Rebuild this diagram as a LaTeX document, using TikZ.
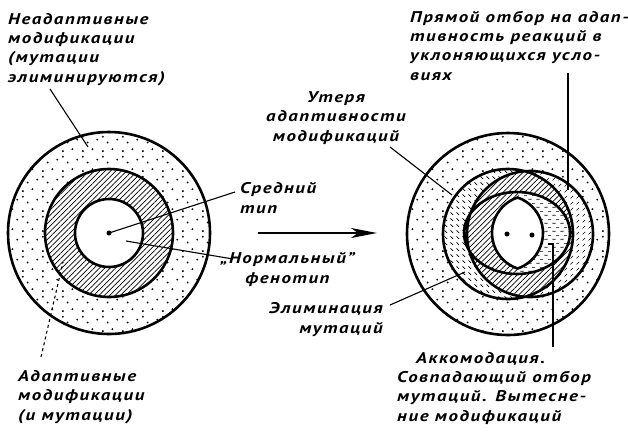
\documentclass[tikz,border=0pt]{standalone}
\usepackage{fontspec}
\usepackage{tikz}
\usetikzlibrary{arrows.meta,patterns.meta}
\newfontfamily\labelfont[FakeStretch=1.22,LetterSpace=10]{PT Sans}

\tikzdeclarepattern{
  name=speckle, type=uncolored,
  bottom left={(0pt,0pt)}, top right={(20pt,20pt)}, tile size={(20pt,20pt)},
  code={
    \fill (3pt,2pt) circle[radius=1.1pt] (13pt,4pt) circle[radius=1.1pt]
          (8pt,11pt) circle[radius=1.1pt] (18pt,14pt) circle[radius=1.1pt]
          (3pt,17pt) circle[radius=1.1pt];
  }
}
\tikzdeclarepattern{
  name=dashnw, type=uncolored,
  bottom left={(0pt,0pt)}, top right={(6pt,6pt)}, tile size={(6pt,6pt)},
  code={\draw[line width=0.75pt] (0.6pt,5.4pt) -- (3.6pt,2.4pt);}
}
\tikzdeclarepattern{
  name=dashne, type=uncolored,
  bottom left={(0pt,0pt)}, top right={(6pt,6pt)}, tile size={(6pt,6pt)},
  code={\draw[line width=0.75pt] (0.6pt,0.6pt) -- (3.6pt,3.6pt);}
}
\tikzdeclarepattern{
  name=dashflat, type=uncolored,
  bottom left={(0pt,0pt)}, top right={(8pt,8pt)}, tile size={(8pt,8pt)},
  code={\draw[line width=0.75pt] (0.5pt,2pt) -- (4pt,2pt) (4.5pt,6pt) -- (8pt,6pt);}
}

\begin{document}
\begin{tikzpicture}[
    x=1pt, y=-1pt,
    rim/.style={line width=2.6pt},
    leader/.style={line width=1.1pt},
    note/.style={anchor=base west, align=left, inner sep=0pt,
      font=\labelfont\bfseries\itshape\fontsize{15.5}{19.3}\selectfont},
    speckled/.style={pattern=speckle},
    ringhatch/.style={pattern={Lines[angle=45,distance=3.8pt,line width=0.7pt]}},
    shiftarrow/.style={line width=2pt, -{Stealth[length=26pt,width=10pt,inset=7pt]}}
  ]
  \useasboundingbox (0,0) rectangle (628,432);

  % left: stable distribution
  \coordinate (L) at (109,233);
  \path[speckled] (L) circle[radius=101];
  \fill[white] (L) circle[radius=64];
  \path[ringhatch] (L) circle[radius=64];
  \fill[white] (L) circle[radius=34];
  \draw[rim] (L) circle[radius=101] (L) circle[radius=64] (L) circle[radius=34];
  \fill (L) circle[radius=2.5];

  % right: shifted distribution
  \coordinate (R) at (508,234);
  \coordinate (Rn) at (530,234);
  \coordinate (Rm) at (517,233);
  \path[speckled] (R) circle[radius=101];
  \fill[white] (R) circle[radius=65] (Rn) circle[radius=63];
  \path[pattern=dashnw] (R) circle[radius=65];
  \path[pattern=dashne] (Rn) circle[radius=63];
  \begin{scope}
    \clip (R) circle[radius=65];
    \fill[white] (Rn) circle[radius=63];
    \path[ringhatch] (Rn) circle[radius=63];
  \end{scope}
  \begin{scope}
    \clip (Rm) ellipse[x radius=53, y radius=41];
    \clip (518,180) rectangle (580,290);
    \fill[white] (Rm) ellipse[x radius=53, y radius=41];
    \path[pattern=dashflat] (Rm) ellipse[x radius=53, y radius=41];
  \end{scope}
  \draw[rim, fill=white] (517.5,197.5) arc[start angle=251.3, end angle=108.7, radius=37.5]
    arc[start angle=71.3, end angle=-71.3, radius=37.5] -- cycle;
  \draw[rim] (R) circle[radius=101] (R) circle[radius=65] (Rn) circle[radius=63]
    (Rm) ellipse[x radius=53, y radius=41];
  \fill (507,234) circle[radius=2.5] (532,235) circle[radius=2.5];

  % change of conditions
  \coordinate (shiftfrom) at (258,233);
  \coordinate (shiftto) at (377,233);
  \draw[shiftarrow] (shiftfrom) -- (shiftto);

  % labels (placed by the baseline of their last line)
  \node[note] (nonadapt) at (8,82) {Неадаптивные\\модификации\\(мутации\\элиминируются)};
  \node[note] (adapt) at (18,420) {Адаптивные\\модификации\\(и мутации)};
  \node[note] (meantype) at (240,213) {Средний\\тип};
  \node[note, align=center] (normal) at (220,283) {„Нормальный”\\фенотип};
  \node[note, align=center, anchor=base] (lossadapt) at (336,141) {Утеря\\адаптивности\\модификаций};
  \node[note, align=right, anchor=base east] (elim) at (383,333) {Элиминация\\мутаций};
  \node[note] (selection) at (410,80) {Прямой отбор на адап-\\тивность реакций в\\уклоняющихся усло-\\виях};
  \node[note] (accom) at (397,421) {\hspace*{19pt}Аккомодация.\\Совпадающий отбор\\мутаций. Вытесне-\\ние модификаций};

  % leaders
  \coordinate (outerzone) at (88,147);
  \coordinate (ringzone) at (63,262);
  \coordinate (innerzone) at (126,241);
  \coordinate (leftgap) at (452,195);
  \coordinate (leftgaplow) at (465,272);
  \coordinate (rightgap) at (568,190);
  \coordinate (accomzone) at (553,244);
  \draw[leader] (nonadapt.base west) ++(42,7) -- (outerzone);
  \draw[leader, dashed] (adapt.base west) ++(23,-63) -- (ringzone);
  \draw[leader] (meantype.base west) ++(-5,-21) -- (L);
  \draw[leader] (normal.base west) ++(13,-24) -- (innerzone);
  \draw[leader] (lossadapt.base) ++(54,6) -- (leftgap);
  \draw[leader] (elim.base east) ++(7,-28) -- (leftgaplow);
  \draw[leader] (selection.base west) ++(158,-7) -- (rightgap);
  \draw[leader] (accom.base west) ++(156,-74) -- (accomzone) -- ++(-5,0);
\end{tikzpicture}
\end{document}
